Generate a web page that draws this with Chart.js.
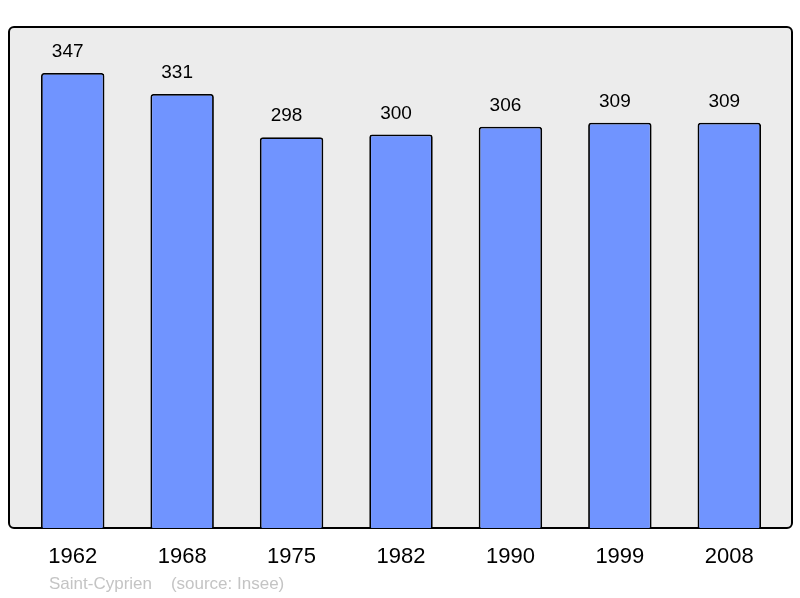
<!DOCTYPE html>
<html>
<head>
<meta charset="utf-8">
<script src="https://cdn.jsdelivr.net/npm/chart.js@4/dist/chart.umd.min.js"></script>
<style>
  body { margin: 0; background: #fff; }
</style>
</head>
<body>
<canvas id="popChart" width="800" height="598"></canvas>
<script>
const years = ["1962", "1968", "1975", "1982", "1990", "1999", "2008"];
const population = [347, 331, 298, 300, 306, 309, 309];
const footerText = "Saint-Cyprien    (source: Insee)";

// grey frame behind bars, values above, year labels and footer
const framePlugin = {
    id: 'frame',
    beforeDatasetsDraw(chart) {
        const ctx = chart.ctx;
        const a = chart.chartArea;
        ctx.save();
        ctx.beginPath();
        ctx.roundRect(a.left - 9, a.top, (a.right + 8) - (a.left - 9), a.bottom - a.top, 5);
        ctx.fillStyle = '#ececec';
        ctx.fill();
        ctx.lineWidth = 2;
        ctx.strokeStyle = '#000';
        ctx.stroke();
        ctx.restore();
    },
    afterDraw(chart) {
        const ctx = chart.ctx;
        const x = chart.scales.x;
        const y = chart.scales.y;
        ctx.save();
        ctx.fillStyle = '#000';
        ctx.textAlign = 'center';
        ctx.textBaseline = 'middle';
        ctx.font = '19px "Liberation Sans", Arial, sans-serif';
        population.forEach((v, i) => {
            // values sit a bit left of the bar centre in the original
            ctx.fillText(String(v), x.getPixelForValue(i) - 5, y.getPixelForValue(v) - 21);
        });
        ctx.font = '22px "Liberation Sans", Arial, sans-serif';
        years.forEach((yr, i) => {
            ctx.fillText(yr, x.getPixelForValue(i), 557);
        });
        ctx.textAlign = 'left';
        ctx.fillStyle = '#c4c4c4';
        ctx.font = '17px "Liberation Sans", Arial, sans-serif';
        ctx.fillText(footerText, 49, 584);
        ctx.restore();
    }
};

new Chart(document.getElementById('popChart'), {
    type: 'bar',
    data: {
        labels: years,
        datasets: [{
            data: population,
            backgroundColor: '#7094ff',
            borderColor: '#000',
            borderWidth: 1.8,
            borderRadius: { topLeft: 3, topRight: 3 },
            borderSkipped: 'bottom',
            categoryPercentage: 1,
            barPercentage: 0.58
        }]
    },
    options: {
        responsive: false,
        animation: false,
        layout: { padding: { left: 18, right: 16, top: 27, bottom: 70 } },
        plugins: { legend: { display: false }, tooltip: { enabled: false } },
        scales: {
            x: { display: false },
            y: { display: false, min: 0, max: 382 }
        }
    },
    plugins: [framePlugin]
});
</script>
</body>
</html>
